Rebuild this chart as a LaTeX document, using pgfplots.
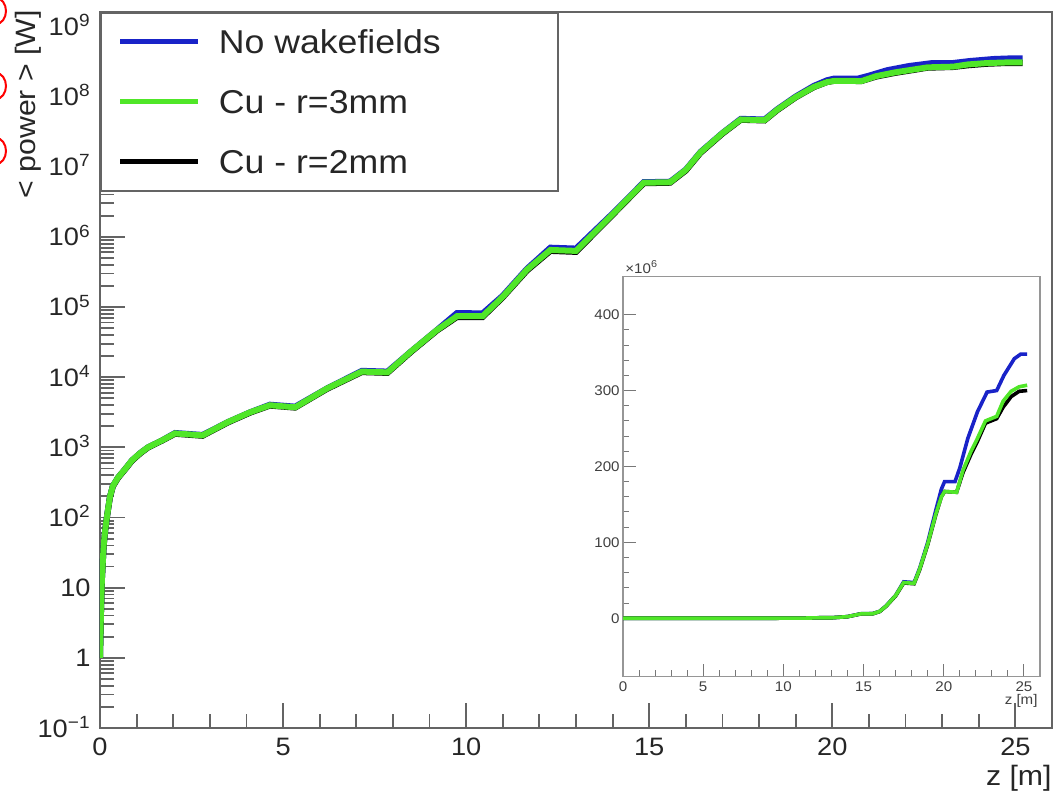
\documentclass[border=0pt]{standalone}
\usepackage{fontspec}
\setmainfont{Liberation Sans}[FakeStretch=1.08]
\usepackage{pgfplots}
\pgfplotsset{compat=1.18}
\usepackage{pgfplotstable}

\definecolor{rblue}{RGB}{25,35,200}
\definecolor{rgreen}{RGB}{80,230,40}
\definecolor{framegray}{RGB}{100,100,100}
\definecolor{insetgray}{RGB}{150,150,150}

\pgfplotstableread{
z p
0 1
0.02 3.2
0.05 12.6
0.1 40
0.14 65
0.2 112
0.27 195
0.35 280
0.49 370
0.7 500
0.87 650
1.1 830
1.31 1000
1.7 1260
2.05 1600
2.8 1500
3.5 2300
4.1 3160
4.64 4050
5.33 3800
6.2 6900
7.15 12300
7.85 12000
8.5 23400
9.2 47000
9.75 82000
10.45 81000
11.0 1.45e5
11.66 3.5e5
12.3 7.0e5
13.0 6.8e5
14.0 2.15e6
14.85 6.0e6
15.57 6.1e6
16.0 9.1e6
16.4 1.62e7
17.0 3.02e7
17.5 4.8e7
18.15 4.7e7
18.5 6.6e7
19.0 1.0e8
19.5 1.42e8
19.85 1.7e8
20.05 1.8e8
20.7 1.8e8
21.0 1.98e8
21.5 2.37e8
22.1 2.72e8
22.7 2.98e8
23.3 3.0e8
23.75 3.2e8
24.4 3.42e8
24.8 3.48e8
25.2 3.48e8
}\blueT

\pgfplotstableread{
z p
0 1
0.02 3.2
0.05 12.6
0.1 40
0.14 65
0.2 112
0.27 195
0.35 280
0.49 370
0.7 500
0.87 650
1.1 830
1.31 1000
1.7 1260
2.05 1580
2.8 1480
3.5 2300
4.1 3160
4.64 3980
5.33 3720
6.2 6900
7.15 12000
7.85 11700
8.5 23400
9.2 46800
9.75 74000
10.45 74000
11.0 1.4e5
11.66 3.4e5
12.3 6.5e5
13.0 6.3e5
14.0 2.1e6
14.85 5.9e6
15.57 6.0e6
16.0 9e6
16.4 1.6e7
17.0 3.0e7
17.5 4.7e7
18.15 4.6e7
18.5 6.5e7
19.0 9.8e7
19.5 1.37e8
19.85 1.6e8
20.05 1.67e8
20.8 1.66e8
21.2 1.95e8
21.7 2.2e8
22.1 2.37e8
22.6 2.6e8
23.3 2.66e8
23.7 2.86e8
24.2 2.99e8
24.7 3.05e8
25.2 3.07e8
}\greenT

\pgfplotstableread{
z p
0 1
0.02 3.2
0.05 12.4
0.1 39
0.14 64
0.2 110
0.27 192
0.35 276
0.49 365
0.7 495
0.87 640
1.1 820
1.31 990
1.7 1250
2.05 1560
2.8 1460
3.5 2270
4.1 3120
4.64 3930
5.33 3680
6.2 6800
7.15 11800
7.85 11500
8.5 23000
9.2 46000
9.75 72000
10.45 72000
11.0 1.37e5
11.66 3.3e5
12.3 6.3e5
13.0 6.1e5
14.0 2.05e6
14.85 5.8e6
15.57 5.9e6
16.0 8.8e6
16.4 1.57e7
17.0 2.95e7
17.5 4.65e7
18.15 4.55e7
18.5 6.4e7
19.0 9.7e7
19.5 1.36e8
19.85 1.6e8
20.05 1.67e8
20.8 1.66e8
21.2 1.92e8
21.7 2.16e8
22.1 2.33e8
22.6 2.57e8
23.3 2.63e8
23.7 2.78e8
24.2 2.92e8
24.7 2.99e8
25.2 3.0e8
}\blackT

\begin{document}
\begin{tikzpicture}[x=1pt,y=1pt]
\useasboundingbox (0,0) rectangle (530.5,396.5);
% red partial marks at the left edge
\draw[red, line width=1pt] (-2,391) ellipse (5 and 6.5);
\draw[red, line width=1pt] (-2,353.5) ellipse (5 and 6.5);
\draw[red, line width=1pt] (-2,321) ellipse (5 and 6.5);

\begin{axis}[
  at={(50pt,32.5pt)}, anchor=south west,
  scale only axis, width=476pt, height=358pt,
  ymode=log,
  xmin=0, xmax=26, ymin=0.1, ymax=1.6e9,
  axis line style={framegray, line width=1.2pt},
  tick style={framegray, line width=0.9pt},
  tick align=inside,
  xtick pos=left, ytick pos=left,
  xtick={0,5,...,25}, minor x tick num=4,
  ytick={0.1,1,10,100,1e3,1e4,1e5,1e6,1e7,1e8,1e9},
  yticklabels={10\textsuperscript{−1},1,10,10\textsuperscript{2},10\textsuperscript{3},10\textsuperscript{4},10\textsuperscript{5},10\textsuperscript{6},10\textsuperscript{7},10\textsuperscript{8},10\textsuperscript{9}},
  minor ytick={0.2,0.3,0.4,0.5,0.6,0.7,0.8,0.9,
    2,3,4,5,6,7,8,9,
    20,30,40,50,60,70,80,90,
    200,300,400,500,600,700,800,900,
    2e3,3e3,4e3,5e3,6e3,7e3,8e3,9e3,
    2e4,3e4,4e4,5e4,6e4,7e4,8e4,9e4,
    2e5,3e5,4e5,5e5,6e5,7e5,8e5,9e5,
    2e6,3e6,4e6,5e6,6e6,7e6,8e6,9e6,
    2e7,3e7,4e7,5e7,6e7,7e7,8e7,9e7,
    2e8,3e8,4e8,5e8,6e8,7e8,8e8,9e8},
  major tick length=12.5pt, minor tick length=7pt,
  /pgf/number format/assume math mode=true,
  ticklabel style={font=\fontsize{12.6}{12.6}\selectfont, text=black!85},
  xticklabel style={anchor=north, inner sep=0pt, yshift=-5pt},
  yticklabel style={anchor=base east, inner sep=0pt, xshift=-4.5pt, yshift=-4.5pt},
  xlabel={z [m]},
  xlabel style={at={(axis description cs:1,-0.052)}, anchor=north east, inner sep=0pt, font=\fontsize{14}{14}\selectfont, text=black!85},
  ylabel={< power > [W]},
  ylabel style={at={(axis description cs:-0.0893,1.003)}, anchor=north east, inner sep=0pt, font=\fontsize{14}{14}\selectfont, text=black!85},
  legend style={at={(0,1)}, anchor=north west, draw=framegray, line width=0.9pt, fill=white,
    inner xsep=8.5pt, inner ysep=7.25pt, row sep=15.5pt, column sep=9pt,
    font=\fontsize{16.5}{16.5}\selectfont,
    cells={anchor=west},
    nodes={inner sep=0pt, text height=13pt, text depth=1.5pt, text=black!85}},
  legend image code/.code={\draw[#1, line width=2.5pt] (0pt,0pt) -- (39pt,0pt);},
]
\addplot[rblue, line width=3pt, forget plot] table[x=z, y=p] {\blueT};
\addplot[black, line width=3pt, forget plot] table[x=z, y=p] {\blackT};
\addplot[rgreen, line width=3pt, forget plot] table[x=z, y=p] {\greenT};
\addlegendimage{rblue}
\addlegendentry{\makebox[161pt][l]{No wakefields}}
\addlegendimage{rgreen}
\addlegendentry{\makebox[161pt][l]{Cu - r=3mm}}
\addlegendimage{black}
\addlegendentry{\makebox[161pt][l]{Cu - r=2mm}}
\end{axis}

\begin{axis}[
  at={(311.5pt,58.15pt)}, anchor=south west,
  scale only axis, width=208.5pt, height=200pt,
  xmin=0, xmax=26, ymin=-77, ymax=450,
  axis background/.style={fill=white},
  axis line style={insetgray, line width=0.8pt},
  tick style={insetgray!80!black, line width=0.5pt},
  tick align=inside,
  xtick pos=left, ytick pos=left,
  xtick={0,5,...,25}, minor x tick num=4,
  ytick={0,100,...,400}, minor y tick num=4,
  major tick length=6.5pt, minor tick length=3.2pt,
  /pgf/number format/assume math mode=true,
  ticklabel style={font=\fontsize{7}{7}\selectfont, text=black!75},
  xticklabel style={anchor=north, inner sep=0pt, yshift=-2.5pt},
  yticklabel style={anchor=east, inner sep=0pt, xshift=-1.5pt},
  xlabel={z [m]},
  xlabel style={at={(axis description cs:0.995,-0.043)}, anchor=north east, inner sep=0pt, font=\fontsize{7}{7}\selectfont, text=black!75},
]
\addplot[rblue, line width=1.8pt] table[x=z, y expr=\thisrow{p}/1e6] {\blueT};
\addplot[black, line width=1.8pt] table[x=z, y expr=\thisrow{p}/1e6] {\blackT};
\addplot[rgreen, line width=1.8pt] table[x=z, y expr=\thisrow{p}/1e6] {\greenT};
\end{axis}
\node[anchor=south west, inner sep=0pt, font=\fontsize{7}{7}\selectfont, text=black!75] at (312.5,259.5) {×10\textsuperscript{6}};
\end{tikzpicture}
\end{document}
